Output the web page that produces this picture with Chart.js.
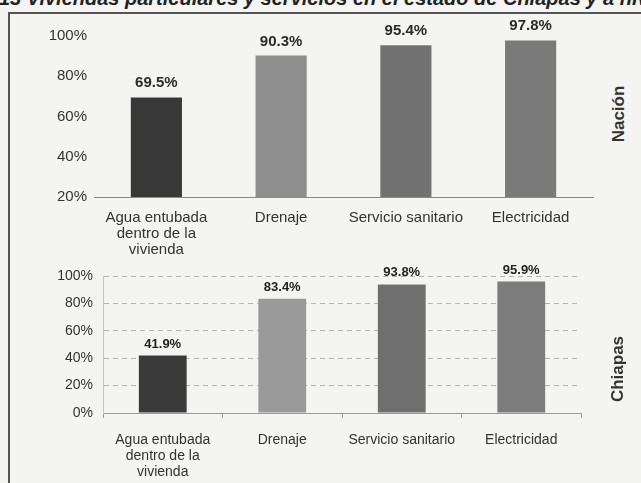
<!DOCTYPE html>
<html>
<head>
<meta charset="utf-8">
<script src="https://cdn.jsdelivr.net/npm/chart.js@4"></script>
<style>
  html, body { margin: 0; padding: 0; width: 641px; height: 483px; overflow: hidden; background: #f4f4f2; }
  #title { position: absolute; left: -1px; top: -12px; font: italic bold 20px/20px "Liberation Sans", Arial, sans-serif; letter-spacing: 0; white-space: nowrap; color: #222; }
  #frame { position: absolute; left: 8px; top: 12px; width: 700px; height: 520px; border-left: 2px solid #555; border-top: 2px solid #555; }
  canvas { position: absolute; left: 0; }
  #nacional { top: 0; }
  #estatal { top: 240px; }
  .side { position: absolute; font: bold 17px "Liberation Sans", Arial, sans-serif; color: #333; white-space: nowrap; transform: translate(-50%, -50%) rotate(-90deg); }
</style>
</head>
<body>
<div id="title">13 Viviendas particulares y servicios en el estado de Chiapas y a nivel nacional</div>
<div id="frame"></div>
<canvas id="nacional" width="600" height="260"></canvas>
<canvas id="estatal" width="600" height="243"></canvas>
<div class="side" style="left:619px; top:114px;">Nación</div>
<div class="side" style="left:618px; top:369px;">Chiapas</div>

<script>
// Servicios de la vivienda
const servicios = [
  ['Agua entubada', 'dentro de la', 'vivienda'],
  'Drenaje',
  'Servicio sanitario',
  'Electricidad'
];

// Porcentaje de viviendas con cada servicio
const nacion = [69.5, 90.3, 95.4, 97.8];
const chiapas = [41.9, 83.4, 93.8, 95.9];

// Marcas del eje vertical
const ticksNacion = [20, 40, 60, 80, 100];
const ticksChiapas = [0, 20, 40, 60, 80, 100];

const coloresNacion = ['#383838', '#8e8e8e', '#727272', '#7a7a7a'];
const coloresChiapas = ['#3a3a3a', '#9a9a9a', '#6f6f6f', '#7c7c7c'];

// Escribe el porcentaje sobre cada barra
const valueLabels = {
  id: 'valueLabels',
  afterDatasetsDraw(chart, args, opts) {
    const ctx = chart.ctx;
    ctx.save();
    ctx.font = opts.font;
    ctx.fillStyle = opts.color;
    ctx.textAlign = 'center';
    ctx.textBaseline = 'alphabetic';
    chart.data.datasets.forEach((ds, i) => {
      chart.getDatasetMeta(i).data.forEach((bar, j) => {
        ctx.fillText(ds.data[j].toFixed(1) + '%', bar.x, bar.y - opts.offset);
      });
    });
    ctx.restore();
  }
};

function fixedTicks(list) {
  return function (scale) {
    scale.ticks = list.map(v => ({ value: v }));
  };
}

// Panel nacional
new Chart(document.getElementById('nacional'), {
  type: 'bar',
  data: {
    labels: servicios,
    datasets: [{
      data: nacion,
      backgroundColor: coloresNacion,
      borderWidth: 0,
      barPercentage: 0.41,
      categoryPercentage: 1
    }]
  },
  plugins: [valueLabels],
  options: {
    responsive: false,
    animation: false,
    devicePixelRatio: 1,
    layout: { padding: { top: 36, right: 7, bottom: 3, left: 0 } },
    plugins: {
      legend: { display: false },
      tooltip: { enabled: false },
      valueLabels: { font: 'bold 15px "Liberation Sans", Arial, sans-serif', color: '#2a2a2a', offset: 10 }
    },
    scales: {
      x: {
        grid: { display: false },
        border: { display: true, color: '#8a8a8a', width: 1 },
        ticks: {
          color: '#333',
          padding: 5,
          maxRotation: 0,
          autoSkip: false,
          font: { family: '"Liberation Sans", Arial, sans-serif', size: 15, lineHeight: 1.07 }
        },
        afterFit(s) { s.height = 60; }
      },
      y: {
        min: 20,
        max: 100,
        afterBuildTicks: fixedTicks(ticksNacion),
        grid: { display: false, drawTicks: false },
        border: { display: false },
        ticks: {
          color: '#333',
          padding: 7,
          font: { family: '"Liberation Sans", Arial, sans-serif', size: 15 },
          callback: v => v + '%'
        },
        afterFit(s) { s.width = 94; }
      }
    }
  }
});

// Panel de Chiapas
new Chart(document.getElementById('estatal'), {
  type: 'bar',
  data: {
    labels: servicios,
    datasets: [{
      data: chiapas,
      backgroundColor: coloresChiapas,
      borderWidth: 0,
      barPercentage: 0.40,
      categoryPercentage: 1
    }]
  },
  plugins: [valueLabels],
  options: {
    responsive: false,
    animation: false,
    devicePixelRatio: 1,
    layout: { padding: { top: 36, right: 19, bottom: 5, left: 0 } },
    plugins: {
      legend: { display: false },
      tooltip: { enabled: false },
      valueLabels: { font: 'bold 13px "Liberation Sans", Arial, sans-serif', color: '#222', offset: 8 }
    },
    scales: {
      x: {
        grid: { drawOnChartArea: false, drawTicks: true, tickLength: 5, color: '#999' },
        border: { display: true, color: '#999', width: 1 },
        ticks: {
          color: '#333',
          padding: 14,
          maxRotation: 0,
          autoSkip: false,
          font: { family: '"Liberation Sans", Arial, sans-serif', size: 14, lineHeight: 1.15 }
        },
        afterFit(s) { s.height = 65; }
      },
      y: {
        min: 0,
        max: 100,
        afterBuildTicks: fixedTicks(ticksChiapas),
        grid: { drawTicks: false, color: '#b4b4b4' },
        border: { display: true, color: '#c4c4c4', dash: [5, 4] },
        ticks: {
          color: '#333',
          padding: 10,
          font: { family: '"Liberation Sans", Arial, sans-serif', size: 14 },
          callback: v => v + '%'
        },
        afterFit(s) { s.width = 103; }
      }
    }
  }
});
</script>
</body>
</html>
